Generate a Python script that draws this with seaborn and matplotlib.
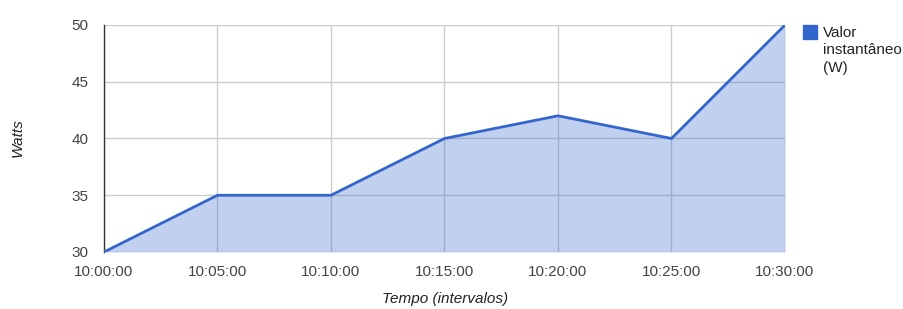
import matplotlib
matplotlib.use("Agg")
import matplotlib.pyplot as plt
import matplotlib.patches as mpatches
import numpy as np
import pandas as pd
import seaborn as sns

# data
times = ["10:00:00", "10:05:00", "10:10:00", "10:15:00", "10:20:00", "10:25:00", "10:30:00"]
watts = [30, 35, 35, 40, 42, 40, 50]
y_ticks = [30, 35, 40, 45, 50]

sns.set_style("white")
plt.rcParams["font.family"] = ["Liberation Sans", "DejaVu Sans"]
plt.rcParams["font.size"] = 11

blue = "#3366CC"
grid = "#cccccc"
text_col = "#444444"

df = pd.DataFrame({"pos": np.arange(len(times)), "watts": watts})

fig = plt.figure(figsize=(9.04, 3.09), dpi=100)
ax = fig.add_axes([104 / 904, 57 / 309, 681 / 904, 227 / 309])

sns.lineplot(data=df, x="pos", y="watts", ax=ax, color=blue, linewidth=2, zorder=3)
ax.fill_between(df["pos"], df["watts"], 30, color=blue, alpha=0.3, linewidth=0, zorder=2)

ax.set_xlim(0, len(times) - 1)
ax.set_ylim(30, 50)
ax.set_xticks(df["pos"])
ax.set_xticklabels(times)
ax.set_yticks(y_ticks)

ax.grid(True, color=grid, linewidth=1, zorder=0)
ax.set_axisbelow(True)
for s in ["top", "right", "bottom"]:
    ax.spines[s].set_visible(False)
ax.spines["left"].set_color("#333333")
ax.spines["left"].set_linewidth(1)
ax.tick_params(axis="both", length=0, colors=text_col, labelsize=11)
ax.tick_params(axis="x", pad=9)
ax.tick_params(axis="y", pad=11)

ax.set_xlabel("")
ax.set_ylabel("")
fig.text(445 / 904, 1 - 299 / 309, "Tempo (intervalos)", style="italic",
         ha="center", va="center", color="#222222", fontsize=11)
fig.text(18 / 904, 1 - 138 / 309, "Watts", style="italic", rotation=90,
         ha="center", va="center", color="#222222", fontsize=11)

# legend drawn by hand (Google Charts style, wrapped label)
fig.patches.append(mpatches.Rectangle((803 / 904, 1 - 39 / 309), 14 / 904, 14 / 309,
                                      transform=fig.transFigure, color=blue, figure=fig))
fig.text(823 / 904, 1 - 26 / 309, "Valor\ninstantâneo\n(W)", ha="left", va="top",
         color="#222222", fontsize=11, linespacing=1.3)

fig.savefig("out.png", dpi=100)
